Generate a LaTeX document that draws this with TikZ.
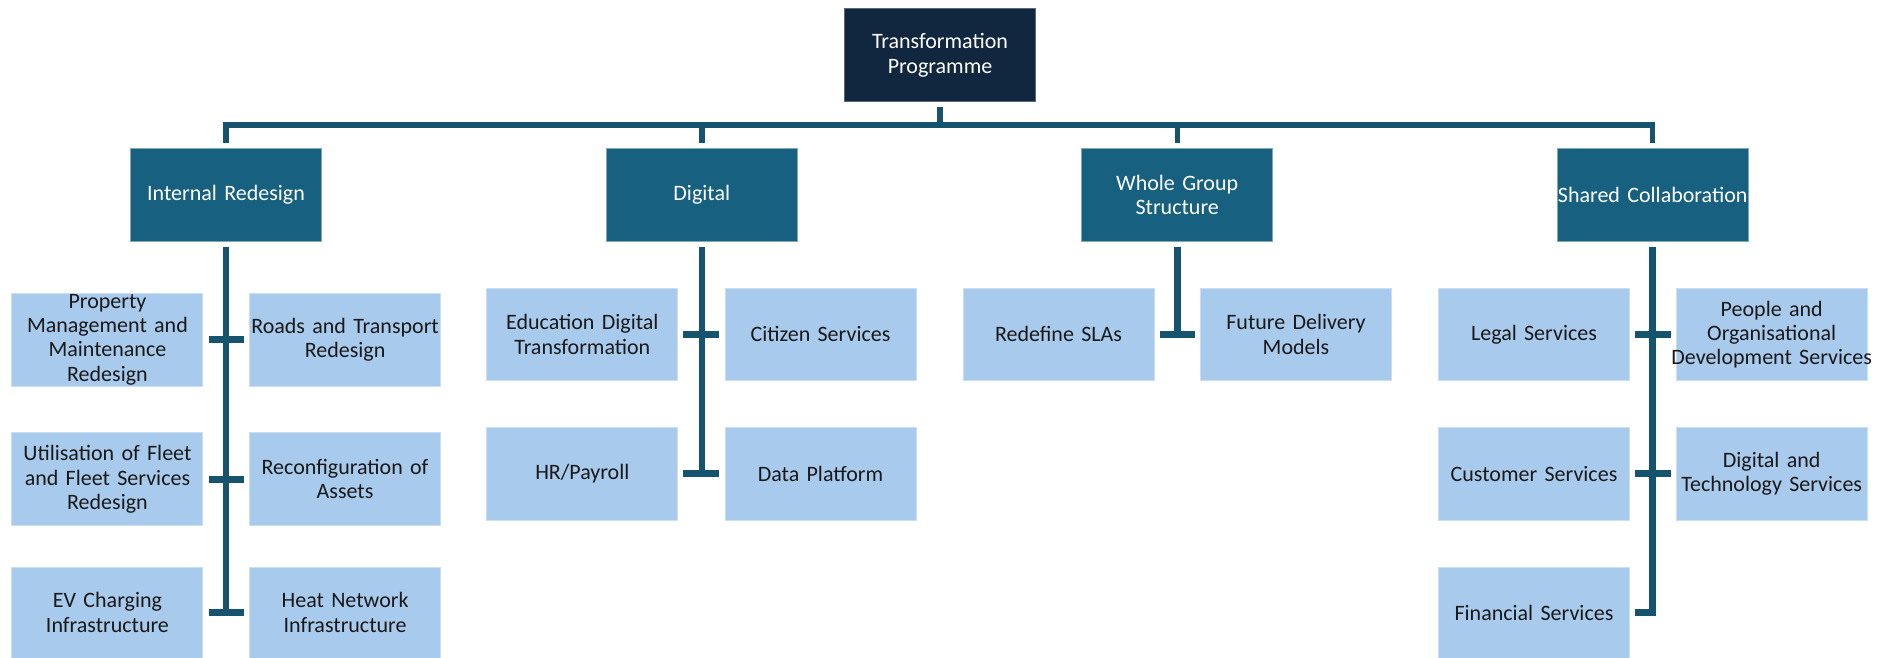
\documentclass[tikz,border=0pt]{standalone}
\usepackage{fontspec}
\setmainfont{Carlito}
\usetikzlibrary{calc}
\definecolor{navy}{HTML}{10273F}
\definecolor{teal}{HTML}{17607F}
\definecolor{pale}{HTML}{A8CAEC}
\definecolor{linec}{HTML}{16536F}
\tikzset{
  box/.style={inner sep=0pt, outer sep=0pt, align=center,
    font=\fontsize{11}{12.1}\selectfont, line width=0.5pt,
    text width=95.5pt, minimum height=46.35pt},
  rootbox/.style={box, fill=navy, draw=navy!70!white, text=white},
  groupbox/.style={box, fill=teal, draw=teal!55!white, text=white},
  itembox/.style={box, fill=pale, draw=pale!60!white, text=black!90},
  lastrow/.style={minimum height=45.5pt},
  trunk/.style={draw=linec, line width=2.7pt, line join=miter},
  stem/.style={draw=linec, line width=3.3pt, line join=miter},
}
\begin{document}
\begin{tikzpicture}[x=0.5pt, y=-0.5pt]
\useasboundingbox (0,0) rectangle (1886,658);

% top of the hierarchy
\node[rootbox] (root) at (940,55.35) {Transformation\\Programme};

% workstreams
\node[groupbox] (ir) at (226,194.65)    {Internal Redesign};
\node[groupbox] (dg) at (701.8,194.65)  {Digital};
\node[groupbox] (wg) at (1177.2,194.65) {Whole Group\\Structure};
\node[groupbox] (sc) at (1652.7,194.65) {Shared Collaboration};

% Internal Redesign projects
\node[itembox] (i11) at (107.45,339.7) {Property\\Management and\\Maintenance\\Redesign};
\node[itembox] (i12) at (345.05,339.7) {Roads and Transport\\Redesign};
\node[itembox] (i21) at (107.45,479.3) {Utilisation of Fleet\\and Fleet Services\\Redesign};
\node[itembox] (i22) at (345.05,479.3) {Reconfiguration of\\Assets};
\node[itembox, lastrow] (i31) at (107.45,612.5) {EV Charging\\Infrastructure};
\node[itembox, lastrow] (i32) at (345.05,612.5) {Heat Network\\Infrastructure};

% Digital projects
\node[itembox] (d11) at (582.35,334.35) {Education Digital\\Transformation};
\node[itembox] (d12) at (820.5,334.35)  {Citizen Services};
\node[itembox] (d21) at (582.35,473.65) {HR/Payroll};
\node[itembox] (d22) at (820.5,473.65)  {Data Platform};

% Whole Group Structure projects
\node[itembox] (w11) at (1058.5,334.35) {Redefine SLAs};
\node[itembox] (w12) at (1296,334.35)   {Future Delivery\\Models};

% Shared Collaboration projects
\node[itembox] (s11) at (1534,334.35)   {Legal Services};
\node[itembox] (s12) at (1771.7,334.35) {People and\\Organisational\\\makebox[\linewidth]{Development Services}};
\node[itembox] (s21) at (1534,473.65)   {Customer Services};
\node[itembox] (s22) at (1771.7,473.65) {Digital and\\Technology Services};
\node[itembox, lastrow] (s31) at (1534,612.5) {Financial Services};

% connector bar under the programme box
\coordinate (bar) at (940,125);
\draw[trunk] ([yshift=-2.8pt]root.south) -- (root.south |- bar);
\draw[trunk] ([yshift=2.8pt]ir.north) -- (ir.north |- bar) -- (sc.north |- bar) -- ([yshift=2.8pt]sc.north);
\draw[trunk] ([yshift=2.8pt]dg.north) -- (dg.north |- bar);
\draw[trunk] ([yshift=2.8pt]wg.north) -- (wg.north |- bar);

% Internal Redesign stem and ticks
\draw[stem] ([yshift=-2.8pt]ir.south) -- (ir.south |- i31.east);
\draw[stem] ([xshift=2.8pt]i11.east) -- ([xshift=-2.8pt]i12.west);
\draw[stem] ([xshift=2.8pt]i21.east) -- ([xshift=-2.8pt]i22.west);
\draw[stem] ([xshift=2.8pt]i31.east) -- ([xshift=-2.8pt]i32.west);

% Digital stem and ticks
\draw[stem] ([yshift=-2.8pt]dg.south) -- (dg.south |- d21.east);
\draw[stem] ([xshift=2.8pt]d11.east) -- ([xshift=-2.8pt]d12.west);
\draw[stem] ([xshift=2.8pt]d21.east) -- ([xshift=-2.8pt]d22.west);

% Whole Group Structure stem and tick
\draw[stem] ([yshift=-2.8pt]wg.south) -- (wg.south |- w11.east);
\draw[stem] ([xshift=2.8pt]w11.east) -- ([xshift=-2.8pt]w12.west);

% Shared Collaboration stem and ticks
\draw[stem] ([yshift=-2.8pt]sc.south) |- ([xshift=2.8pt]s31.east);
\draw[stem] ([xshift=2.8pt]s11.east) -- ([xshift=-2.8pt]s12.west);
\draw[stem] ([xshift=2.8pt]s21.east) -- ([xshift=-2.8pt]s22.west);
\end{tikzpicture}
\end{document}
